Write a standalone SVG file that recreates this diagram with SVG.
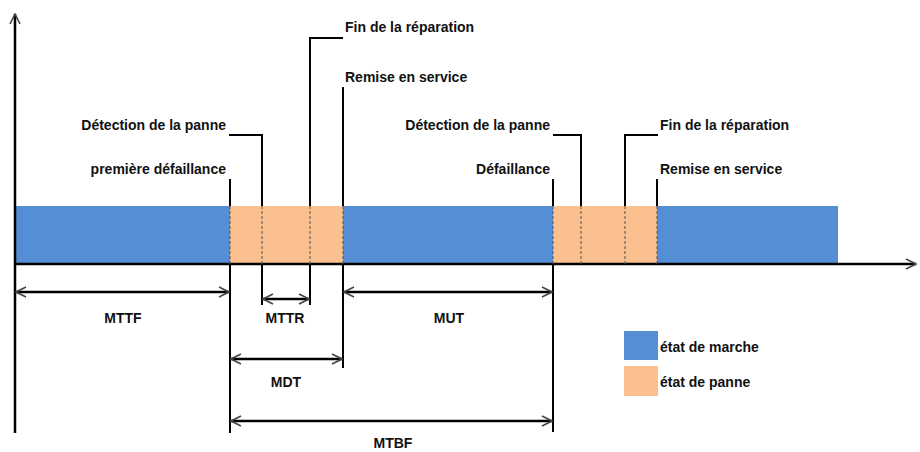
<svg xmlns="http://www.w3.org/2000/svg" width="920" height="452" viewBox="0 0 920 452">
<style>
.t{font-family:"Liberation Sans",Arial,sans-serif;font-size:14px;font-weight:bold;fill:#111}
.e{text-anchor:end}
.m{text-anchor:middle}
.ln{stroke:#000;stroke-width:2;fill:none}
.ds{stroke:#555;stroke-width:1;stroke-dasharray:3,2;fill:none}
.dim{stroke:#000;stroke-width:2.5;fill:none;marker-start:url(#a);marker-end:url(#a)}
.blue{fill:#558ED5}
.or{fill:#FAC090}
</style>
<defs>
<marker id="a" viewBox="0 0 12 12" refX="11" refY="6" markerWidth="12" markerHeight="12" markerUnits="userSpaceOnUse" orient="auto-start-reverse">
<path d="M1,1 L11,6 L1,11" fill="none" stroke="#444" stroke-width="1.6"/>
</marker>
</defs>
<g id="bars">
<rect class="blue" x="15" y="206" width="215" height="58"/>
<rect class="or" x="230" y="206" width="113" height="58"/>
<rect class="blue" x="343" y="206" width="210" height="58"/>
<rect class="or" x="553" y="206" width="104" height="58"/>
<rect class="blue" x="657" y="206" width="181" height="58"/>
</g>
<g id="connectors">
<line class="ln" x1="15" y1="433" x2="15" y2="14" style="stroke-width:2.5;marker-end:url(#a)"/>
<line class="ln" x1="15" y1="264" x2="916" y2="264" style="stroke-width:2.5;marker-end:url(#a)"/>
<path class="ln" d="M230,179 V206 M230,264 V433"/>
<path class="ln" d="M229,135 H262 V206 M262,264 V305"/>
<path class="ln" d="M343,38 H310 V206 M310,264 V305"/>
<path class="ln" d="M343,87 V206 M343,264 V368"/>
<path class="ln" d="M553,179 V206 M553,264 V432"/>
<path class="ln" d="M553,135 H581 V206"/>
<path class="ln" d="M658,135 H625 V206"/>
<path class="ln" d="M657,179 V206"/>
<path class="ds" d="M230,206 V264 M262,206 V264 M310,206 V264 M343,206 V264 M553,206 V264 M581,206 V264 M625,206 V264 M657,206 V264"/>
<line class="dim" x1="16" y1="292" x2="229" y2="292"/>
<line class="dim" x1="263" y1="299" x2="309" y2="299"/>
<line class="dim" x1="344" y1="292" x2="552" y2="292"/>
<line class="dim" x1="231" y1="359" x2="342" y2="359"/>
<line class="dim" x1="231" y1="421" x2="552" y2="421"/>
</g>
<g id="labels">
<text class="t" x="345" y="32">Fin de la réparation</text>
<text class="t" x="345" y="82">Remise en service</text>
<text class="t e" x="226" y="130">Détection de la panne</text>
<text class="t e" x="226" y="174">première défaillance</text>
<text class="t e" x="550" y="130">Détection de la panne</text>
<text class="t e" x="550" y="174">Défaillance</text>
<text class="t" x="660" y="130">Fin de la réparation</text>
<text class="t" x="660" y="174">Remise en service</text>
<text class="t m" x="123" y="323">MTTF</text>
<text class="t m" x="285" y="323">MTTR</text>
<text class="t m" x="449" y="323">MUT</text>
<text class="t m" x="286" y="387">MDT</text>
<text class="t m" x="393" y="448">MTBF</text>
</g>
<g id="legend">
<rect class="blue" x="624" y="331" width="34" height="29"/>
<rect class="or" x="624" y="366" width="34" height="30"/>
<text class="t" x="660" y="352">état de marche</text>
<text class="t" x="660" y="387">état de panne</text>
</g>
</svg>
